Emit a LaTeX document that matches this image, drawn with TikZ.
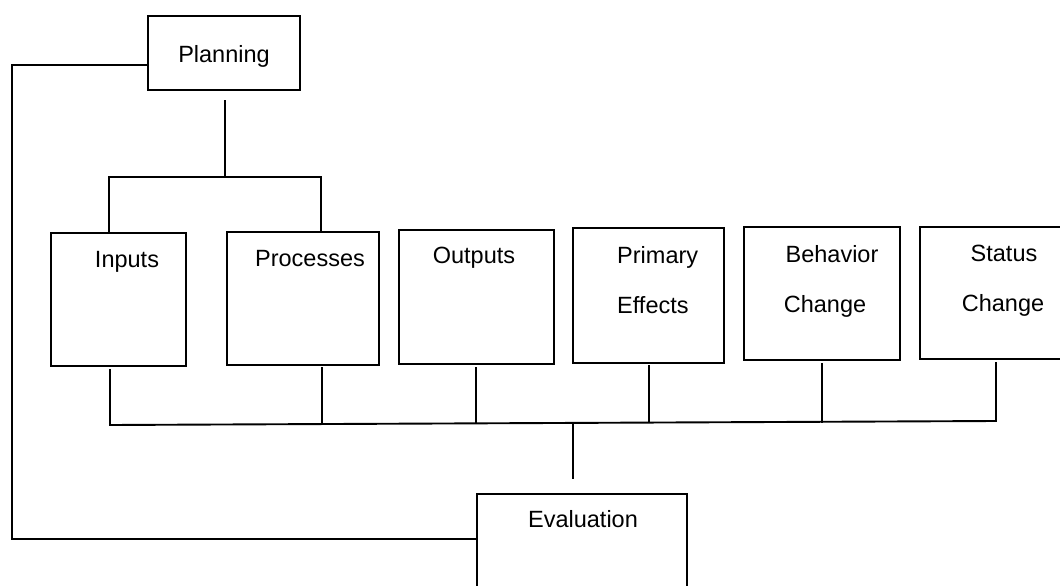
\documentclass[tikz,border=0pt]{standalone}
\usepackage{fontspec}
\setmainfont{Liberation Sans}
\begin{document}
\begin{tikzpicture}[x=1pt,y=-1pt,
  box/.style={draw, line width=1.9pt, inner sep=0pt, anchor=north west},
  lbl/.style={font=\fontsize{23.5}{28}\selectfont, inner sep=0pt, anchor=base},
  conn/.style={line width=1.9pt}]
\useasboundingbox (0,0) rectangle (1060,586);
\clip (0,0) rectangle (1060,586);
% boxes
\node[box, minimum width=152pt, minimum height=74pt] (plan) at (147,15) {};
\node[box, minimum width=135pt, minimum height=133pt] (inp) at (50,232) {};
\node[box, minimum width=152pt, minimum height=133pt] (proc) at (226,231) {};
\node[box, minimum width=155pt, minimum height=134pt] (outp) at (398,229) {};
\node[box, minimum width=151pt, minimum height=135pt] (prim) at (572,227) {};
\node[box, minimum width=156pt, minimum height=133pt] (beh) at (743,226) {};
\node[box, minimum width=156pt, minimum height=132pt] (stat) at (919,226) {};
\node[box, minimum width=210pt, minimum height=110pt] (eval) at (476,493) {};
% labels
\node[lbl] (tplan) at (224,63) {Planning};
\node[lbl] (tinp) at (127,267) {Inputs};
\node[lbl] (tproc) at (310,266) {Processes};
\node[lbl] (toutp) at (474,263) {Outputs};
\node[lbl, anchor=base west] (tprim1) at (617,263) {Primary};
\node[lbl, anchor=base west] (tprim2) at (617,313) {Effects};
\node[lbl] (tbeh1) at (832,262) {Behavior};
\node[lbl] (tbeh2) at (825,312) {Change};
\node[lbl] (tstat1) at (1004,261) {Status};
\node[lbl] (tstat2) at (1003,311) {Change};
\node[lbl] (teval) at (583,527) {Evaluation};
% coordinates
\coordinate (ptop) at (225,100);
\coordinate (pbar) at (225,177);
\coordinate (bl) at (109,177);
\coordinate (br) at (321,177);
\coordinate (i1) at (110,369);
\coordinate (p1) at (322,367);
\coordinate (o1) at (476,367);
\coordinate (e1) at (649,365);
\coordinate (b1) at (822,363);
\coordinate (s1) at (996,362);
\coordinate (busL) at (110,425);
\coordinate (busR) at (996,421);
\coordinate (busM) at (573,423);
\coordinate (evtop) at (573,479);
% top tree
\draw[conn] (ptop) -- (pbar);
\draw[conn] (bl |- inp.north) -- (bl) -- (br) -- (br |- proc.north);
% feedback loop
\draw[conn] (plan.west |- 0,65) -- (12,65) -- (12,539) -- (eval.west |- 0,539);
% bottom bus
\draw[conn] (i1) -- (busL) -- (busR) -- (s1);
\draw[conn] (p1) -- (p1 |- busM);
\draw[conn] (o1) -- (o1 |- busM);
\draw[conn] (e1) -- (e1 |- busM);
\draw[conn] (b1) -- (b1 |- busM);
\draw[conn] (busM) -- (evtop);
\end{tikzpicture}
\end{document}
